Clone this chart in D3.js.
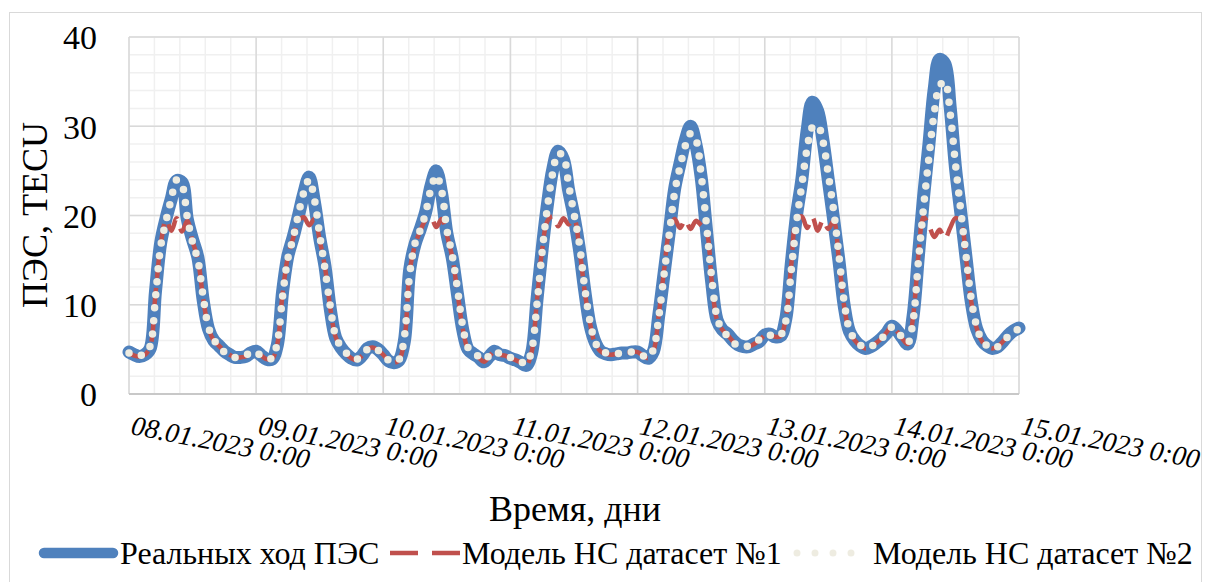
<!DOCTYPE html>
<html>
<head>
<meta charset="utf-8">
<script src="https://cdn.jsdelivr.net/npm/d3@7"></script>
<style>
  body { margin: 0; background: #fff; }
  svg { display: block; }
  text { font-family: "Liberation Serif", "Times New Roman", serif; fill: #000; }
</style>
</head>
<body>
<svg id="chart" width="1206" height="582"></svg>
<script>
// hourly values, 08.01.2023 0:00 .. 15.01.2023 0:00
var real_tec = [
  4.7, 4.4, 4.2, 4.4, 5.1, 11.5, 17.0, 19.7, 21.9, 23.9, 23.7, 19.6, 17.3, 15.3, 10.5, 7.3, 6.0, 5.4, 4.8, 4.4, 4.1, 4.1, 4.2, 4.6,
  4.8, 4.3, 3.9, 3.9, 5.5, 11.5, 15.5, 17.6, 20.0, 22.5, 24.3, 21.5, 17.5, 14.3, 9.5, 6.3, 5.2, 4.5, 4.0, 3.8, 4.3, 5.1, 5.3, 5.0,
  4.4, 3.7, 3.5, 3.8, 6.0, 14.0, 16.8, 18.5, 20.4, 23.3, 25.0, 22.5, 18.0, 15.3, 11.2, 7.2, 5.0, 4.5, 4.1, 3.6, 4.2, 4.8, 4.4, 4.3,
  4.0, 3.8, 3.5, 3.2, 4.6, 10.5, 16.3, 21.3, 25.2, 27.2, 26.3, 22.8, 19.9, 16.3, 11.7, 7.8, 5.8, 4.8, 4.5, 4.4, 4.5, 4.6, 4.6, 4.7,
  4.7, 4.3, 4.0, 4.8, 8.8, 13.5, 18.2, 23.0, 25.8, 28.4, 30.0, 28.0, 24.3, 18.4, 12.5, 8.3, 7.2, 6.7, 6.0, 5.5, 5.3, 5.3, 5.6, 5.9,
  6.6, 6.7, 6.4, 6.5, 8.5, 14.5, 20.0, 24.0, 29.5, 32.7, 31.7, 28.4, 24.0, 19.6, 15.0, 9.9, 7.0, 6.0, 5.4, 5.1, 5.3, 5.7, 6.2, 6.8,
  7.6, 7.1, 6.3, 5.6, 8.7, 15.4, 22.2, 28.0, 34.2, 37.5, 37.0, 32.2, 25.4, 20.4, 15.3, 10.3, 7.3, 6.0, 5.4, 5.1, 5.3, 5.9, 6.6, 7.1,
  7.4
];

var model_ds1 = [
  4.6, 4.3, 4.2, 4.4, 5.3, 11.2, 16.8, 19.5, 18.3, 19.7, 18.2, 19.4, 17.1, 15.1, 10.7, 7.4, 6.0, 5.4, 4.8, 4.4, 4.1, 4.1, 4.2, 4.6,
  4.8, 4.3, 3.9, 3.9, 5.6, 11.3, 15.4, 17.5, 19.4, 19.8, 18.9, 19.6, 17.2, 14.2, 9.6, 6.4, 5.2, 4.5, 4.0, 3.8, 4.3, 5.0, 5.2, 4.9,
  4.4, 3.7, 3.5, 3.8, 6.1, 13.8, 16.7, 18.3, 19.5, 19.8, 18.7, 19.6, 17.8, 15.4, 11.4, 7.3, 5.0, 4.5, 4.1, 3.6, 4.2, 4.8, 4.4, 4.3,
  4.0, 3.8, 3.5, 3.2, 4.7, 10.4, 16.2, 19.4, 19.9, 18.8, 19.7, 19.0, 19.6, 16.4, 11.6, 8.0, 5.6, 4.8, 4.5, 4.4, 4.5, 4.6, 4.6, 4.7,
  4.7, 4.3, 4.0, 4.8, 8.9, 13.9, 18.3, 19.6, 18.6, 19.5, 18.5, 19.4, 18.9, 18.2, 12.6, 8.3, 7.2, 6.6, 5.9, 5.4, 5.3, 5.3, 5.6, 6.0,
  6.6, 6.7, 6.4, 6.5, 8.6, 14.4, 19.5, 19.9, 18.6, 19.8, 18.3, 19.5, 18.5, 19.4, 15.1, 9.8, 7.0, 6.0, 5.4, 5.1, 5.3, 5.7, 6.2, 6.9,
  7.6, 7.0, 6.2, 5.6, 8.6, 15.4, 19.8, 18.9, 17.6, 18.4, 17.4, 18.6, 19.7, 19.3, 15.2, 10.3, 7.4, 5.9, 5.3, 5.1, 5.3, 5.9, 6.6, 7.1,
  7.4
];

var model_ds2 = [
  4.6, 4.3, 4.3, 4.5, 5.4, 10.8, 16.6, 19.4, 21.9, 24.0, 23.4, 19.8, 17.0, 15.0, 10.9, 7.5, 6.1, 5.3, 4.7, 4.3, 4.1, 4.2, 4.3, 4.7,
  4.7, 4.2, 4.0, 4.0, 5.8, 11.0, 15.2, 17.5, 20.2, 22.6, 24.0, 21.8, 17.8, 14.0, 9.8, 6.5, 5.3, 4.6, 4.1, 3.9, 4.4, 5.0, 5.2, 4.9,
  4.3, 3.8, 3.6, 3.9, 6.5, 13.5, 16.9, 18.4, 20.3, 23.0, 24.5, 22.8, 18.4, 15.6, 11.8, 7.6, 5.2, 4.6, 4.2, 3.8, 4.3, 4.8, 4.5, 4.4,
  4.1, 3.9, 3.6, 3.4, 4.9, 10.0, 16.0, 21.0, 24.8, 27.0, 26.6, 23.4, 20.2, 16.9, 12.0, 8.2, 5.8, 4.9, 4.6, 4.5, 4.5, 4.6, 4.7, 4.7,
  4.6, 4.3, 4.1, 5.0, 8.6, 13.4, 18.0, 22.6, 25.4, 27.8, 29.2, 28.5, 24.6, 19.0, 13.0, 8.6, 7.1, 6.5, 5.8, 5.4, 5.3, 5.4, 5.7, 6.1,
  6.5, 6.6, 6.4, 6.6, 8.2, 13.8, 19.2, 23.4, 27.5, 29.9, 30.1, 28.3, 24.6, 20.6, 15.6, 10.3, 7.2, 6.1, 5.5, 5.2, 5.3, 5.7, 6.2, 6.8,
  7.5, 7.0, 6.3, 5.7, 8.2, 14.8, 21.0, 26.5, 31.5, 34.5, 35.0, 31.5, 25.8, 20.6, 15.5, 10.6, 7.6, 6.0, 5.4, 5.1, 5.3, 5.8, 6.5, 7.0,
  7.3
];

var day_labels = ["08.01.2023 0:00", "09.01.2023 0:00", "10.01.2023 0:00", "11.01.2023 0:00",
                  "12.01.2023 0:00", "13.01.2023 0:00", "14.01.2023 0:00", "15.01.2023 0:00"];
var y_ticks = [0, 10, 20, 30, 40];

var legend_names = ["Реальных ход ПЭС", "Модель НС датасет №1", "Модель НС датасет №2"];

var serif = "Liberation Serif, Times New Roman, serif";
var svg = d3.select("#chart");

// outer chart frame
svg.append("rect")
    .attr("x", 9.5).attr("y", 12.5)
    .attr("width", 1192).attr("height", 600)
    .attr("fill", "none")
    .attr("stroke", "#d9d9d9")
    .attr("stroke-width", 1);

var x = d3.scaleLinear().domain([0, 168]).range([129, 1019]);
var y = d3.scaleLinear().domain([0, 40]).range([394, 37]);

var grid = svg.append("g");

// minor grid: 2 TECU, 1/5 day
grid.selectAll(".hminor")
    .data(d3.range(0, 40.01, 2))
    .enter().append("line")
    .attr("x1", x(0)).attr("x2", x(168))
    .attr("y1", d => y(d)).attr("y2", d => y(d))
    .attr("stroke", "#f0f0f0").attr("stroke-width", 1.5);

grid.selectAll(".vminor")
    .data(d3.range(0, 168.01, 4.8))
    .enter().append("line")
    .attr("y1", y(0)).attr("y2", y(40))
    .attr("x1", d => x(d)).attr("x2", d => x(d))
    .attr("stroke", "#f0f0f0").attr("stroke-width", 1.5);

// major grid
grid.selectAll(".hmajor")
    .data(y_ticks)
    .enter().append("line")
    .attr("x1", x(0)).attr("x2", x(168))
    .attr("y1", d => y(d)).attr("y2", d => y(d))
    .attr("stroke", "#d9d9d9").attr("stroke-width", 1.5);

grid.selectAll(".vmajor")
    .data(d3.range(0, 169, 24))
    .enter().append("line")
    .attr("y1", y(0)).attr("y2", y(40))
    .attr("x1", d => x(d)).attr("x2", d => x(d))
    .attr("stroke", "#d9d9d9").attr("stroke-width", 1.5);

svg.append("line")
    .attr("x1", x(0)).attr("x2", x(168))
    .attr("y1", y(0)).attr("y2", y(0))
    .attr("stroke", "#c8c8c8").attr("stroke-width", 2);

// y axis labels
var yAxis = d3.axisLeft(y).tickValues(y_ticks).tickSize(0).tickPadding(0);
var yg = svg.append("g").attr("transform", "translate(97,0)").call(yAxis);
yg.select(".domain").remove();
yg.selectAll("text")
    .attr("font-family", serif)
    .attr("font-size", 34)
    .attr("dy", "0.35em")
    .attr("fill", "#000");

// x axis labels (rotated)
svg.selectAll(".xlab")
    .data(day_labels)
    .enter().append("text")
    .attr("class", "xlab")
    .attr("transform", (d, i) => "translate(" + (x(i * 24) + 1) + ",434) rotate(11)")
    .attr("font-family", serif)
    .attr("font-size", 27.5)
    .attr("font-style", "italic")
    .text(d => d);

// series
var line = d3.line()
    .x((d, i) => x(i))
    .y(d => y(d))
    .curve(d3.curveCatmullRom.alpha(0.5));

svg.append("path")
    .attr("d", line(real_tec))
    .attr("fill", "none")
    .attr("stroke", "#4f81bd")
    .attr("stroke-width", 13)
    .attr("stroke-linejoin", "round")
    .attr("stroke-linecap", "round");

svg.append("path")
    .attr("d", line(model_ds1))
    .attr("fill", "none")
    .attr("stroke", "#c0504d")
    .attr("stroke-width", 4.5)
    .attr("stroke-dasharray", "22,10")
    .attr("stroke-linejoin", "round");

svg.append("path")
    .attr("d", line(model_ds2))
    .attr("fill", "none")
    .attr("stroke", "#eeece1")
    .attr("stroke-width", 7.5)
    .attr("stroke-dasharray", "0,13")
    .attr("stroke-linecap", "round");

// axis titles
svg.append("text")
    .attr("transform", "translate(47,215) rotate(-90)")
    .attr("text-anchor", "middle")
    .attr("font-family", serif)
    .attr("font-size", 36)
    .text("ПЭС, TECU");

svg.append("text")
    .attr("x", 575).attr("y", 521)
    .attr("text-anchor", "middle")
    .attr("font-family", serif)
    .attr("font-size", 36)
    .text("Время, дни");

// legend
var lg = svg.append("g");
lg.append("line").attr("x1", 44).attr("x2", 113).attr("y1", 553).attr("y2", 553)
    .attr("stroke", "#4f81bd").attr("stroke-width", 10.5).attr("stroke-linecap", "round");
lg.append("line").attr("x1", 390).attr("x2", 460).attr("y1", 553).attr("y2", 553)
    .attr("stroke", "#c0504d").attr("stroke-width", 4.5).attr("stroke-dasharray", "28,14");
lg.append("line").attr("x1", 797).attr("x2", 852).attr("y1", 553).attr("y2", 553)
    .attr("stroke", "#eeece1").attr("stroke-width", 7).attr("stroke-dasharray", "0,18")
    .attr("stroke-linecap", "round");

var legend_x = [120, 462, 873];
lg.selectAll(".ltext")
    .data(legend_names)
    .enter().append("text")
    .attr("x", (d, i) => legend_x[i])
    .attr("y", 564)
    .attr("font-family", serif)
    .attr("font-size", 32)
    .text(d => d);
</script>
</body>
</html>
